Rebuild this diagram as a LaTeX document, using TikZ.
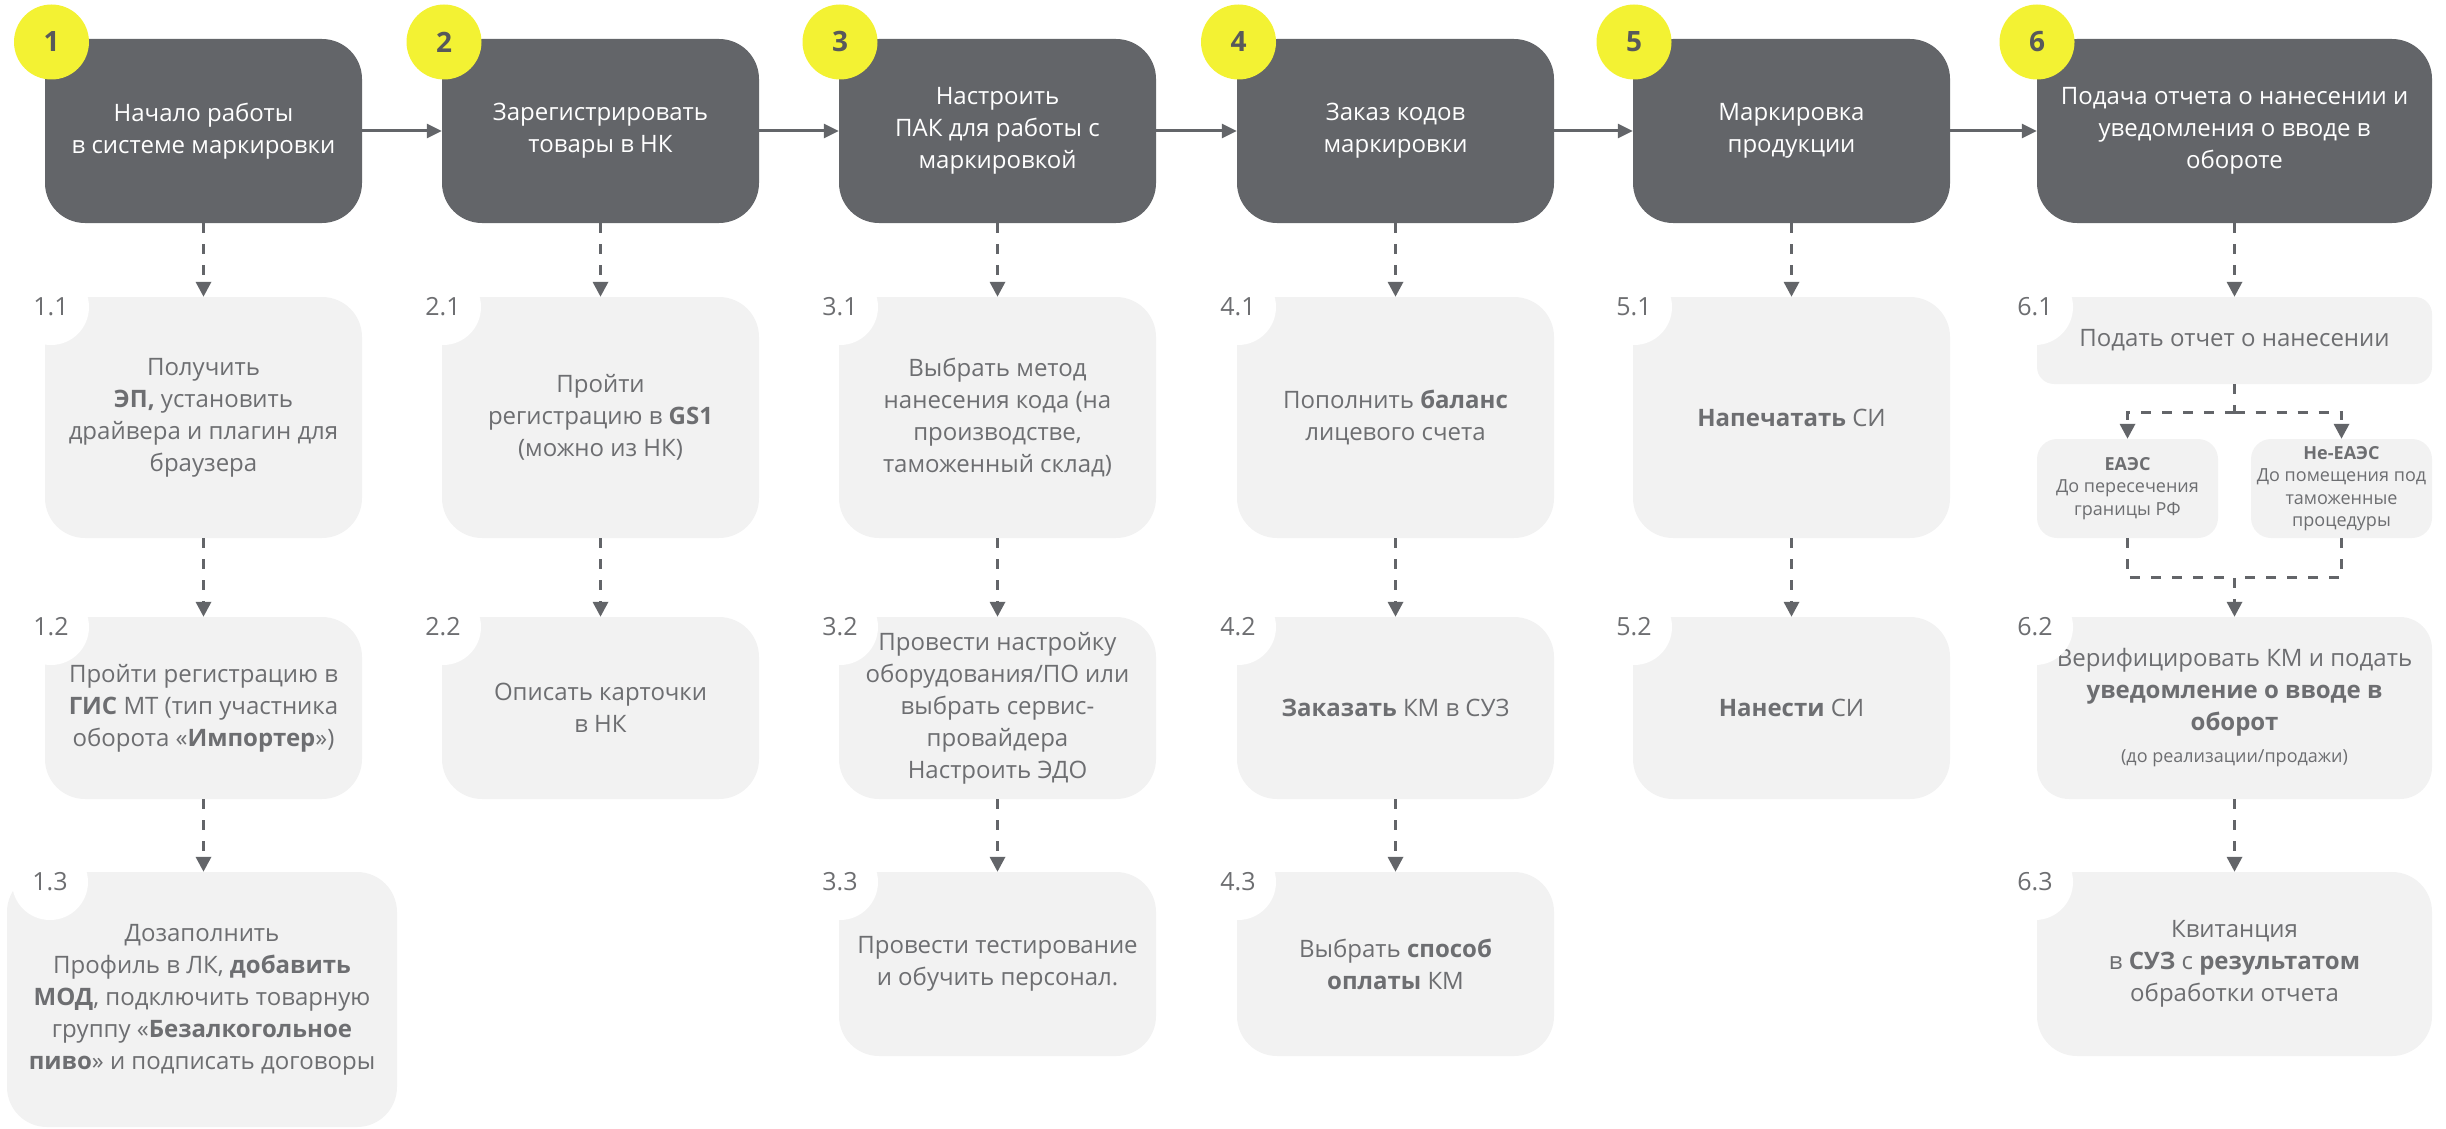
\documentclass[tikz,border=0pt]{standalone}
\usepackage{fontspec}
\setmainfont{Open Sans}
\usetikzlibrary{arrows.meta}
\definecolor{cdark}{HTML}{636569}
\definecolor{clight}{HTML}{F2F2F2}
\definecolor{cyel}{HTML}{F3F233}
\definecolor{ctext}{HTML}{6D6E71}
\definecolor{cnum}{HTML}{58595B}
\tikzset{
  darkbox/.style={fill=cdark, rounded corners=40pt, minimum width=317pt, minimum height=184pt,
    inner sep=0pt, align=center, text=white, font=\fontsize{24}{32}\selectfont},
  lightbox/.style={fill=clight, rounded corners=40pt, minimum width=317pt, inner sep=0pt,
    align=center, text=ctext, font=\fontsize{24}{32}\selectfont},
  smallbox/.style={fill=clight, rounded corners=20pt, minimum width=181pt, minimum height=99pt,
    inner sep=0pt, align=center, text=ctext, font=\fontsize{18}{22.5}\selectfont},
  badge/.style={circle, fill=cyel, minimum size=75pt, inner sep=0pt, text=cnum,
    font=\fontsize{28}{28}\selectfont\bfseries},
  cutout/.style={circle, fill=white, minimum size=76pt, inner sep=0pt, text=ctext,
    font=\fontsize{25}{25}\selectfont},
  harrow/.style={draw=cdark, line width=3pt, -{Triangle[width=14pt,length=15pt]}, color=cdark},
  dline/.style={draw=cdark, line width=3.3pt, dash pattern=on 10pt off 11pt},
  dasharrow/.style={dline, -{Triangle[width=15pt,length=15pt]}, color=cdark},
}
\begin{document}
\begin{tikzpicture}[x=1pt,y=-1pt]
\useasboundingbox (0,0) rectangle (2446,1129);

% main step boxes
\node[darkbox] (d1) at (203.5,131) {Начало работы\\в системе маркировки};
\node[darkbox] (d2) at (600.5,131) {Зарегистрировать\\товары в НК};
\node[darkbox] (d3) at (997.5,131) {Настроить\\ПАК для работы с\\маркировкой};
\node[darkbox] (d4) at (1395.5,131) {Заказ кодов\\маркировки};
\node[darkbox] (d5) at (1791.5,131) {Маркировка\\продукции};
\node[darkbox, minimum width=395pt] (d6) at (2234.5,131) {Подача отчета о нанесении и\\уведомления о вводе в\\обороте};

\node[badge] (n1) at (51.5,42) {1};
\node[badge] (n2) at (444,42) {2};
\node[badge] (n3) at (840,42) {3};
\node[badge] (n4) at (1238.5,42) {4};
\node[badge] (n5) at (1634,42) {5};
\node[badge] (n6) at (2037,42) {6};

% column 1
\node[lightbox, minimum height=241pt] (b11) at (203.5,417.5) {Получить\\\textbf{ЭП,} установить\\драйвера и плагин для\\браузера};
\node[lightbox, minimum height=182pt] (b12) at (203.5,708) {Пройти регистрацию в\\\textbf{ГИС} МТ (тип участника\\оборота «\textbf{Импортер}»)};
\node[lightbox, minimum width=390pt, minimum height=255pt] (b13) at (202,999.5) {Дозаполнить\\Профиль в ЛК, \textbf{добавить}\\\textbf{МОД}, подключить товарную\\группу «\textbf{Безалкогольное}\\\textbf{пиво}» и подписать договоры};
\node[cutout] (c11) at (51,307) {1.1};
\node[cutout] (c12) at (51,627) {1.2};
\node[cutout] (c13) at (50,882) {1.3};

% column 2
\node[lightbox, minimum height=241pt] (b21) at (600.5,417.5) {Пройти\\регистрацию в \textbf{GS1}\\(можно из НК)};
\node[lightbox, minimum height=182pt] (b22) at (600.5,708) {Описать карточки\\в НК};
\node[cutout] (c21) at (443,307) {2.1};
\node[cutout] (c22) at (443,627) {2.2};

% column 3
\node[lightbox, minimum height=241pt] (b31) at (997.5,417.5) {Выбрать метод\\нанесения кода (на\\производстве,\\таможенный склад)};
\node[lightbox, minimum height=182pt] (b32) at (997.5,708) {Провести настройку\\оборудования/ПО или\\выбрать сервис-\\провайдера\\Настроить ЭДО};
\node[lightbox, minimum height=184pt] (b33) at (997.5,964) {Провести тестирование\\и обучить персонал.};
\node[cutout] (c31) at (840,307) {3.1};
\node[cutout] (c32) at (840,627) {3.2};
\node[cutout] (c33) at (840,882) {3.3};

% column 4
\node[lightbox, minimum height=241pt] (b41) at (1395.5,417.5) {Пополнить \textbf{баланс}\\лицевого счета};
\node[lightbox, minimum height=182pt] (b42) at (1395.5,708) {\textbf{Заказать} КМ в СУЗ};
\node[lightbox, minimum height=184pt] (b43) at (1395.5,964) {Выбрать \textbf{способ}\\\textbf{оплаты} КМ};
\node[cutout] (c41) at (1238,307) {4.1};
\node[cutout] (c42) at (1238,627) {4.2};
\node[cutout] (c43) at (1238,882) {4.3};

% column 5
\node[lightbox, minimum height=241pt] (b51) at (1791.5,417.5) {\textbf{Напечатать} СИ};
\node[lightbox, minimum height=182pt] (b52) at (1791.5,708) {\textbf{Нанести} СИ};
\node[cutout] (c51) at (1634,307) {5.1};
\node[cutout] (c52) at (1634,627) {5.2};

% column 6
\node[lightbox, minimum width=395pt, minimum height=87pt, rounded corners=17pt] (b61) at (2234.5,340.5) {Подать отчет о нанесении};
\node[smallbox] (ea) at (2127.5,488.5) {\textbf{ЕАЭС}\\До пересечения\\границы РФ};
\node[smallbox] (nea) at (2341.5,488.5) {\textbf{Не-ЕАЭС}\\До помещения под\\таможенные\\процедуры};
\node[lightbox, minimum width=395pt, minimum height=182pt, rounded corners=32pt] (b62) at (2234.5,708) {Верифицировать КМ и подать\\\textbf{уведомление о вводе в}\\\textbf{оборот}\\{\fontsize{18}{22}\selectfont (до реализации/продажи)}};
\node[lightbox, minimum width=395pt, minimum height=184pt] (b63) at (2234.5,964) {Квитанция\\в \textbf{СУЗ} с \textbf{результатом}\\обработки отчета};
\node[cutout] (c61) at (2035,307) {6.1};
\node[cutout] (c62) at (2035,627) {6.2};
\node[cutout] (c63) at (2035,882) {6.3};

% horizontal flow
\draw[harrow] (d1) -- (d2);
\draw[harrow] (d2) -- (d3);
\draw[harrow] (d3) -- (d4);
\draw[harrow] (d4) -- (d5);
\draw[harrow] (d5) -- (d6);

% vertical dashed flow
\draw[dasharrow] (d1) -- (b11);
\draw[dasharrow] (b11) -- (b12);
\draw[dasharrow] (b12.south) -- (b12.south |- b13.north);
\draw[dasharrow] (d2) -- (b21);
\draw[dasharrow] (b21) -- (b22);
\draw[dasharrow] (d3) -- (b31);
\draw[dasharrow] (b31) -- (b32);
\draw[dasharrow] (b32) -- (b33);
\draw[dasharrow] (d4) -- (b41);
\draw[dasharrow] (b41) -- (b42);
\draw[dasharrow] (b42) -- (b43);
\draw[dasharrow] (d5) -- (b51);
\draw[dasharrow] (b51) -- (b52);
\draw[dasharrow] (d6) -- (b61);

\path (b61.south) ++(0,28) coordinate (s1);
\draw[dline] (b61.south) -- (s1);
\draw[dasharrow] (s1) -| (ea.north);
\draw[dasharrow] (s1) -| (nea.north);
\path (b62.north) ++(0,-39) coordinate (m1);
\draw[dline] (ea.south) |- (m1);
\draw[dline] (nea.south) |- (m1);
\draw[dasharrow] (m1) -- (b62.north);
\draw[dasharrow] (b62) -- (b63);
\end{tikzpicture}
\end{document}
